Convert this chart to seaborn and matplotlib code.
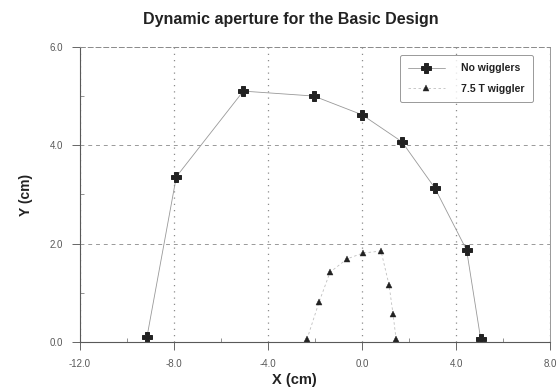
import matplotlib
matplotlib.use("Agg")
import matplotlib.pyplot as plt
import seaborn as sns
import numpy as np
import pandas as pd
from matplotlib.ticker import MultipleLocator, FormatStrFormatter

# Data
nowig_x = [-9.15, -7.9, -5.05, -2.05, 0.0, 1.7, 3.1, 4.45, 5.05]
nowig_y = [0.10, 3.36, 5.10, 5.00, 4.62, 4.07, 3.13, 1.87, 0.06]
wig_x = [-2.34, -1.83, -1.36, -0.64, 0.04, 0.81, 1.15, 1.32, 1.45]
wig_y = [0.06, 0.81, 1.42, 1.69, 1.81, 1.85, 1.16, 0.57, 0.06]
series_names = ["No wigglers", "7.5 T wiggler"]
x_ticks = [-12, -8, -4, 0, 4, 8]
y_ticks = [0, 2, 4, 6]

sns.set_style("white")
plt.rcParams['font.family'] = ['Liberation Sans', 'DejaVu Sans']

fig = plt.figure(figsize=(5.59, 3.87), dpi=100)
ax = fig.add_axes([0.143, 0.116, 0.841, 0.763])

df1 = pd.DataFrame({"x": nowig_x, "y": nowig_y})
df2 = pd.DataFrame({"x": wig_x, "y": wig_y})

sns.lineplot(data=df1, x="x", y="y", sort=False, ax=ax, color="0.6", lw=0.6,
             marker="P", markersize=6.5, markerfacecolor="#222222",
             markeredgecolor="#222222", markeredgewidth=0.7,
             label=series_names[0])
sns.lineplot(data=df2, x="x", y="y", sort=False, ax=ax, color="0.75", lw=0.6,
             linestyle=(0, (3, 3)),
             marker="^", markersize=5, markerfacecolor="#222222",
             markeredgecolor="#222222", markeredgewidth=0.3,
             label=series_names[1])

ax.set_xlim(-12, 8)
ax.set_ylim(0, 6)
ax.set_xticks(x_ticks)
ax.set_yticks(y_ticks)
ax.xaxis.set_major_formatter(FormatStrFormatter('%.1f'))
ax.yaxis.set_major_formatter(FormatStrFormatter('%.1f'))
ax.xaxis.set_minor_locator(MultipleLocator(2))
ax.yaxis.set_minor_locator(MultipleLocator(1))
ax.tick_params(axis='both', which='major', direction='out', length=6, width=0.7,
               color='0.4', labelsize=7, labelcolor='0.35', pad=6)
ax.tick_params(axis='both', which='minor', direction='in', length=3, width=0.6,
               color='0.5')
ax.tick_params(axis='x', which='both', bottom=True)
ax.tick_params(axis='y', which='both', left=True)

ax.yaxis.grid(True, linestyle=(0, (4, 4)), color='0.6', lw=0.7)
ax.xaxis.grid(True, linestyle=(0, (1, 4)), color='0.55', lw=0.9)
ax.set_axisbelow(True)

for s in ['left', 'bottom']:
    ax.spines[s].set_color('0.35')
    ax.spines[s].set_linewidth(0.8)
ax.spines['top'].set_color('0.55')
ax.spines['top'].set_linestyle((0, (5, 3)))
ax.spines['top'].set_linewidth(0.7)
ax.spines['right'].set_color('0.6')
ax.spines['right'].set_linewidth(0.7)

ax.set_xlabel("X (cm)", fontsize=10.5, fontweight='bold', color='#222222')
ax.xaxis.set_label_coords(0.457, -0.105)
ax.set_ylabel("Y (cm)", fontsize=10, fontweight='bold', color='#222222', labelpad=12)
fig.suptitle("Dynamic aperture for the Basic Design", x=0.52, y=0.97,
             fontsize=11.5, fontweight='bold', color='#222222')

leg = ax.legend(loc='upper right', bbox_to_anchor=(0.975, 0.99), fontsize=7.5,
                frameon=True, fancybox=True, edgecolor='0.5', handlelength=3.5,
                borderpad=0.8, labelspacing=1.0, handletextpad=1.6)
leg.get_frame().set_linewidth(0.7)
for t in leg.get_texts():
    t.set_fontweight('bold')
    t.set_color('#222222')

fig.savefig("out.png", dpi=100)
